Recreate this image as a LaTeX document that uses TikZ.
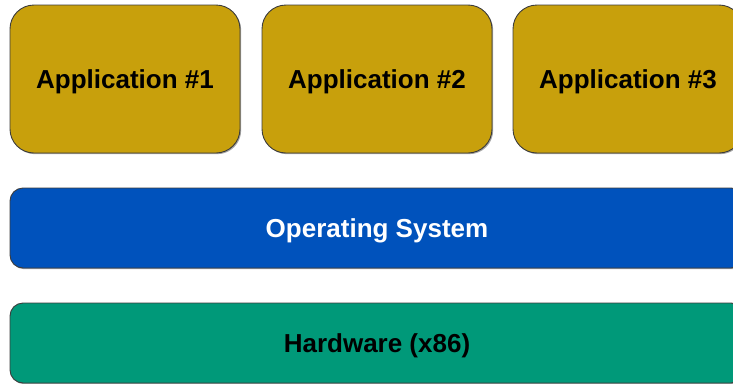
\documentclass[tikz,border=0pt]{standalone}
\usepackage{fontspec}
\setmainfont{Liberation Sans}
\usetikzlibrary{shadows}
\definecolor{appgold}{RGB}{200,160,12}
\definecolor{osblue}{RGB}{0,82,188}
\definecolor{hwgreen}{RGB}{0,153,121}
\definecolor{edgegray}{RGB}{60,60,60}
\tikzset{
  layerbox/.style={draw=edgegray, line width=0.9pt, inner sep=0pt, anchor=center,
    font=\bfseries\fontsize{26}{30}\selectfont, text height=19pt, text depth=0pt,
    drop shadow={shadow xshift=1.2pt, shadow yshift=-1.2pt, fill=black, opacity=0.35}},
  appbox/.style={layerbox, fill=appgold, text=black, rounded corners=24pt,
    minimum width=230pt, minimum height=148pt},
  wide/.style={layerbox, rounded corners=13pt, minimum width=734pt, minimum height=80pt}
}
\begin{document}
\begin{tikzpicture}[x=1pt,y=-1pt]
\useasboundingbox (0,0) rectangle (733,383);
\begin{scope}
\clip (0,0) rectangle (733,383);
\node[appbox] (app1) at (125,79) {Application \#1};
\node[appbox] (app2) at (377,79) {Application \#2};
\node[appbox] (app3) at (628,79) {Application \#3};
\node[wide, fill=osblue, text=white] (os) at (377,228) {Operating System};
\node[wide, fill=hwgreen, text=black] (hw) at (377,343) {Hardware (x86)};
\end{scope}
\end{tikzpicture}
\end{document}
